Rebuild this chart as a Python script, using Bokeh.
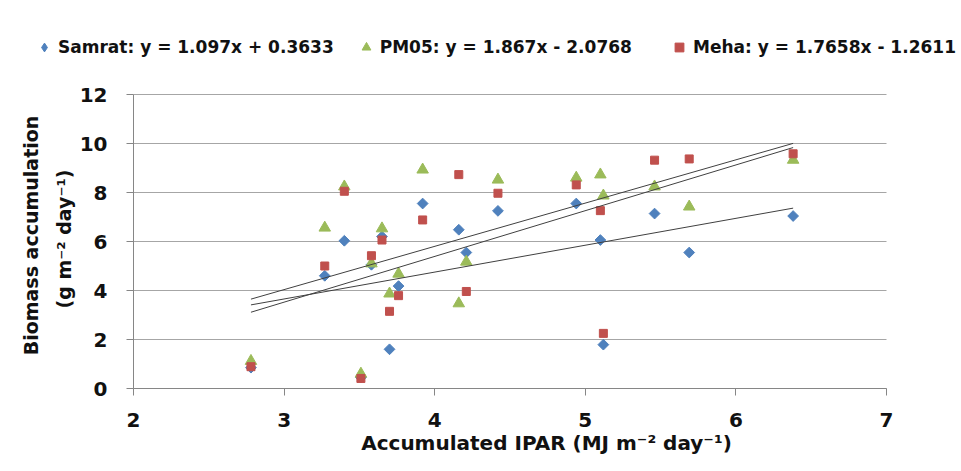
import numpy as np
from bokeh.plotting import figure
from bokeh.models import Legend, LegendItem, Label, FixedTicker, Range1d
from bokeh.embed import file_html
from bokeh.resources import INLINE

# ---- data ----
ipar = [2.78, 3.27, 3.40, 3.51, 3.58, 3.65, 3.70, 3.76, 3.92, 4.16, 4.21, 4.42,
        4.94, 5.10, 5.12, 5.46, 5.69, 6.38]
samrat = [0.85, 4.60, 6.03, 0.45, 5.05, 6.20, 1.60, 4.18, 7.55, 6.48, 5.55, 7.25,
          7.55, 6.06, 1.79, 7.14, 5.55, 7.04]
pm05 = [1.12, 6.56, 8.24, 0.60, 5.10, 6.53, 3.87, 4.68, 8.93, 3.47, 5.17, 8.52,
        8.60, 8.73, 7.87, 8.24, 7.42, 9.33]
meha = [0.89, 5.00, 8.05, 0.41, 5.42, 6.06, 3.15, 3.79, 6.88, 8.73, 3.96, 7.97,
        8.31, 7.26, 2.25, 9.32, 9.37, 9.58]

series_names = ["Samrat", "PM05", "Meha"]
slopes = [1.097, 1.867, 1.7658]
intercepts = [0.3633, -2.0768, -1.2611]
legend_labels = ["Samrat: y = 1.097x + 0.3633",
                 "PM05: y = 1.867x - 2.0768",
                 "Meha: y = 1.7658x - 1.2611"]
x_ticks = [2, 3, 4, 5, 6, 7]
y_ticks = [0, 2, 4, 6, 8, 10, 12]
x_bounds = (2, 7)
y_bounds = (0, 12)
x_title = "Accumulated IPAR (MJ m\u207b\u00b2 day\u207b\u00b9)"
y_title_1 = "Biomass accumulation"
y_title_2 = "(g m\u207b\u00b2 day\u207b\u00b9)"

# ---- style / layout ----
FONT = "DejaVu Sans"
colors = ["#4F81BD", "#9BBB59", "#C0504D"]
grid_col = "#a6a6a6"
axis_col = "#868686"
text_col = "#111111"
W, H = 958, 458
# pixel box of the plotting area inside the canvas
PX_L, PX_R, PX_T, PX_B = 133, 886, 94, 388
sx = (PX_R - PX_L) / (x_bounds[1] - x_bounds[0])
sy = (PX_B - PX_T) / (y_bounds[1] - y_bounds[0])


def dx(px):
    return x_bounds[0] + (px - PX_L) / sx


def dy(py):
    return y_bounds[0] + (PX_B - py) / sy


p = figure(width=W, height=H, x_range=Range1d(dx(0), dx(W)),
           y_range=Range1d(dy(H), dy(0)), output_backend="svg",
           toolbar_location=None, min_border=0)
p.outline_line_color = None
p.xgrid.visible = False
p.ygrid.visible = False

# horizontal gridlines restricted to the plotting area
n = len(y_ticks)
p.segment(x0=[x_bounds[0]] * n, y0=y_ticks, x1=[x_bounds[1]] * n, y1=y_ticks,
          line_color=grid_col, line_width=1)

r_s = p.scatter(ipar, samrat, marker="square", angle=np.pi / 4, size=7.6,
                color=colors[0])
r_p = p.scatter(ipar, pm05, marker="triangle", size=11.5, color=colors[1])
r_m = p.scatter(ipar, meha, marker="square", size=8, color=colors[2])
# hidden twin used only for the diamond legend glyph
r_s_leg = p.scatter(ipar, samrat, marker="diamond", color=colors[0], visible=False)

x0, x1 = min(ipar), max(ipar)
for m, b in zip(slopes, intercepts):
    xs = [x0, x1]
    ys = [m * x + b for x in xs]
    p.line(xs, ys, line_color="#404040", line_width=1)

# axes pinned at the data origin of the plotting area
for ax in (p.xaxis, p.yaxis):
    ax.axis_line_color = axis_col
    ax.major_tick_line_color = axis_col
    ax.major_tick_out = 7
    ax.major_tick_in = 0
    ax.minor_tick_line_color = None
    ax.major_label_text_font = FONT
    ax.major_label_text_font_style = "bold"
    ax.major_label_text_font_size = "20px"
    ax.major_label_text_color = text_col
p.xaxis.fixed_location = y_bounds[0]
p.yaxis.fixed_location = x_bounds[0]
p.xaxis.bounds = x_bounds
p.yaxis.bounds = y_bounds
p.xaxis.ticker = FixedTicker(ticks=x_ticks)
p.yaxis.ticker = FixedTicker(ticks=y_ticks)
p.xaxis.major_label_standoff = 17
p.yaxis.major_label_standoff = 19

leg_style = dict(orientation="horizontal", glyph_width=22, glyph_height=22,
                 label_standoff=3, spacing=21, padding=0, margin=0,
                 border_line_color=None, background_fill_alpha=0,
                 inactive_fill_alpha=0, label_text_font=FONT,
                 label_text_font_style="bold", label_text_font_size="17px",
                 label_text_color=text_col, label_height=22)
legend_a = Legend(items=[LegendItem(label=legend_labels[0], renderers=[r_s_leg]),
                         LegendItem(label=legend_labels[1], renderers=[r_p])],
                  location=(33, H - 58), **leg_style)
legend_b = Legend(items=[LegendItem(label=legend_labels[2], renderers=[r_m])],
                  location=(668, H - 58), **leg_style)
p.add_layout(legend_a)
p.add_layout(legend_b)

common = dict(text_font=FONT, text_font_style="bold", text_color=text_col,
              text_align="center", text_baseline="middle")
p.add_layout(Label(x=dx(546), y=dy(442), text=x_title, text_font_size="20px",
                   **common))
p.add_layout(Label(x=dx(30), y=dy(235), angle=np.pi / 2, text=y_title_1,
                   text_font_size="19px", **common))
p.add_layout(Label(x=dx(63), y=dy(238.5), angle=np.pi / 2, text=y_title_2,
                   text_font_size="19px", **common))

open("out.html", "w").write(file_html(p, INLINE))
